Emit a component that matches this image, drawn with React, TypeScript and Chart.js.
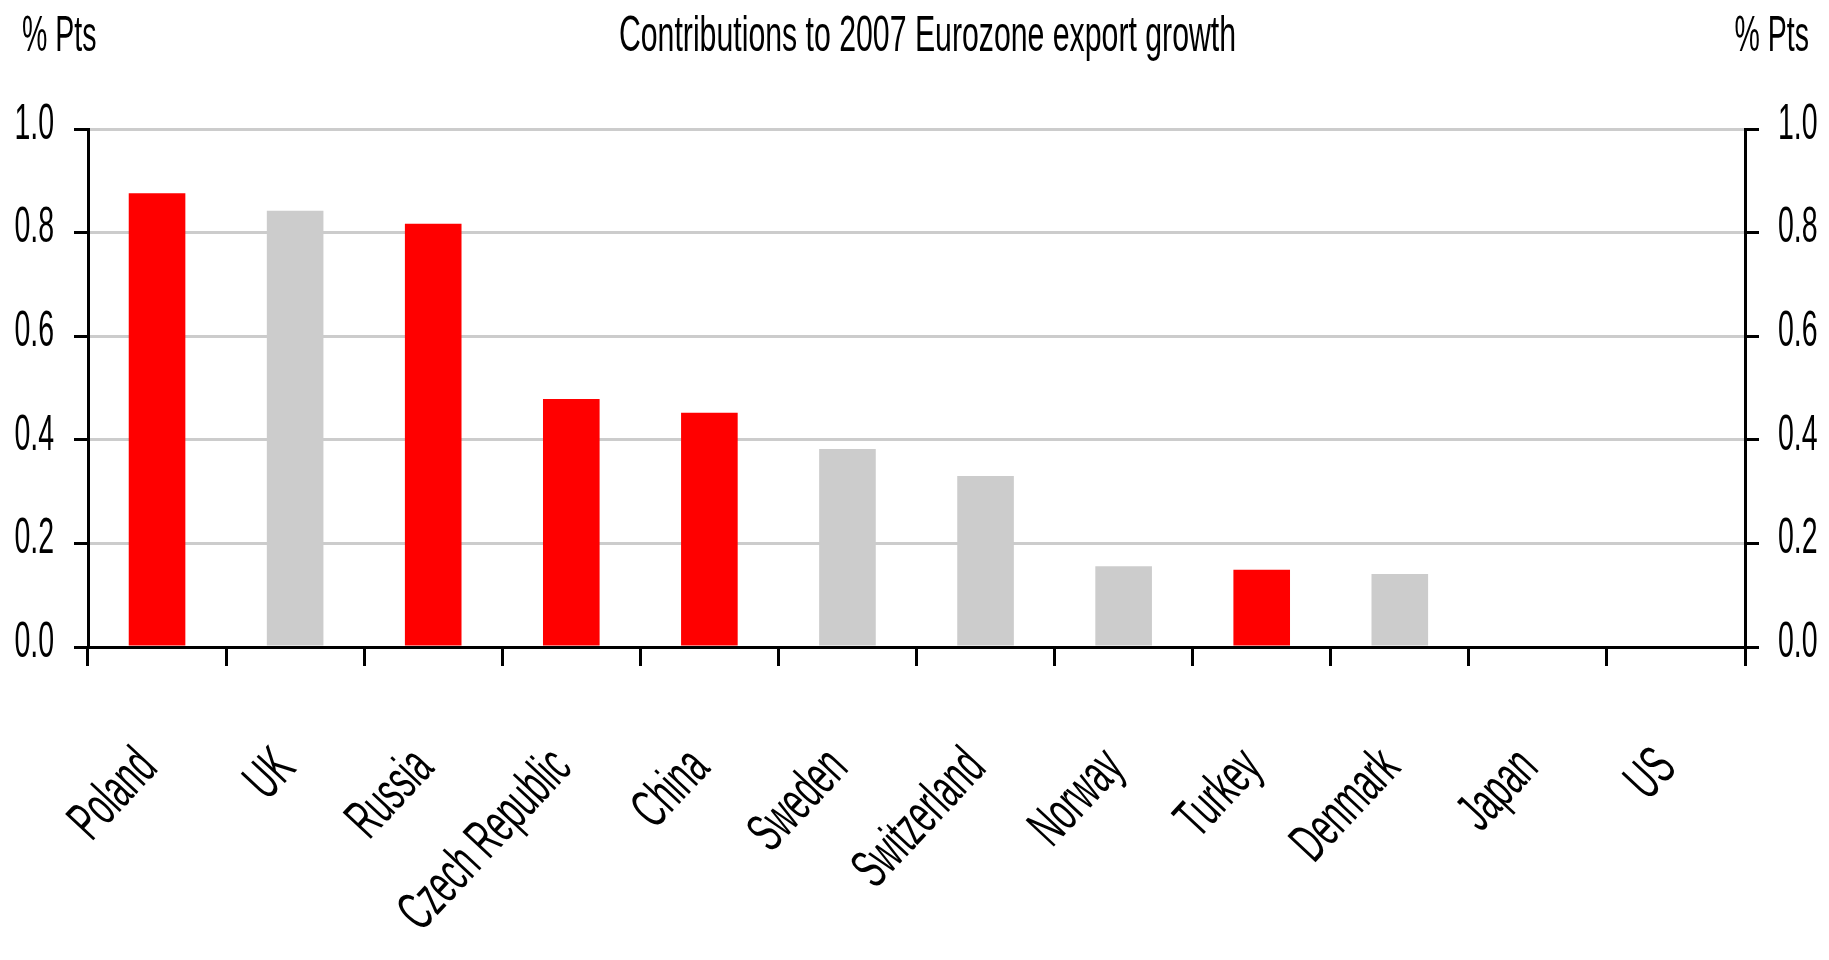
import React, { useEffect, useRef } from "react";
import { Chart, registerables } from "chart.js";

Chart.register(...registerables);

// ---- Data ----
const categories = [
  "Poland",
  "UK",
  "Russia",
  "Czech Republic",
  "China",
  "Sweden",
  "Switzerland",
  "Norway",
  "Turkey",
  "Denmark",
  "Japan",
  "US",
];
const contributions = [0.876, 0.842, 0.817, 0.479, 0.452, 0.382, 0.33, 0.156, 0.149, 0.141, 0, 0];
const highlighted = [true, false, true, true, true, false, false, false, true, false, false, false];
const yTickValues = [0, 0.2, 0.4, 0.6, 0.8, 1.0];
const chartTitle = "Contributions to 2007 Eurozone export growth";
const unitLabel = "% Pts";

// ---- Styles ----
const FONT = "'Liberation Sans', Arial, sans-serif";
const FONT_SIZE = 50;
const X_FONT_SIZE = 56;
const CONDENSE = 0.57; // horizontal squeeze of glyphs (narrow typeface look)
const TITLE_CONDENSE = 0.605;
const RED = "#FF0000";
const GREY = "#CCCCCC";

// Draw all chart text with a horizontally condensed typeface look.
const condensePlugin = {
  id: "condense",
  beforeDraw(chart: any) {
    const ctx = chart.ctx as any;
    if (ctx.__condensed) return;
    const orig = ctx.fillText.bind(ctx);
    ctx.fillText = (text: string, x: number, y: number, maxWidth?: number) => {
      const k = ctx.__k || CONDENSE;
      ctx.save();
      ctx.translate(x, y);
      ctx.scale(k, 1);
      if (maxWidth !== undefined && maxWidth !== null) orig(text, 0, 0, maxWidth / k);
      else orig(text, 0, 0);
      ctx.restore();
    };
    ctx.__condensed = true;
  },
};

const headerPlugin = {
  id: "header",
  afterDraw(chart: any) {
    const { chartArea } = chart;
    const ctx = chart.ctx as any;
    ctx.save();
    ctx.fillStyle = "#000";
    ctx.font = `${FONT_SIZE}px ${FONT}`;
    ctx.textBaseline = "alphabetic";
    ctx.textAlign = "left";
    ctx.fillText(unitLabel, chartArea.left - 66, 51);
    ctx.textAlign = "right";
    ctx.fillText(unitLabel, chartArea.right + 64, 51);
    ctx.textAlign = "center";
    ctx.__k = TITLE_CONDENSE;
    ctx.fillText(chartTitle, (chartArea.left + chartArea.right) / 2 + 11, 51);
    ctx.__k = 0;
    ctx.restore();
  },
};

export default function App() {
  const canvasRef = useRef<HTMLCanvasElement | null>(null);

  useEffect(() => {
    document.body.style.margin = "0";
    const canvas = canvasRef.current;
    if (!canvas) return;

    const yTicksOpts = (padding: number) => ({
      font: { family: FONT, size: FONT_SIZE },
      color: "#000",
      padding,
      labelOffset: -4,
      callback: (v: any) => Number(v).toFixed(1),
    });

    const chart = new Chart(canvas, {
      type: "bar",
      data: {
        labels: categories,
        datasets: [
          {
            data: contributions,
            backgroundColor: highlighted.map((h) => (h ? RED : GREY)),
            borderWidth: 0,
            barPercentage: 0.41,
            categoryPercentage: 1,
          },
        ],
      },
      options: {
        responsive: false,
        animation: false,
        devicePixelRatio: 1,
        layout: { padding: { top: 129, left: 0, right: 0, bottom: 0 } },
        plugins: {
          legend: { display: false },
          tooltip: { enabled: false },
          title: { display: false },
        },
        scales: {
          x: {
            ticks: {
              font: { family: FONT, size: X_FONT_SIZE },
              color: "#000",
              minRotation: 47,
              maxRotation: 47,
              padding: 70,
              labelOffset: -9,
              autoSkip: false,
            },
            grid: {
              drawOnChartArea: false,
              offset: true,
              color: "#000",
              lineWidth: 3,
              tickLength: 19,
            },
            border: { color: "#000", width: 3 },
            afterFit: (s: any) => {
              s.height = 313;
              s.paddingLeft = 0;
              s.paddingRight = 0;
            },
          },
          y: {
            position: "left",
            min: 0,
            max: 1,
            afterBuildTicks: (s: any) => {
              s.ticks = yTickValues.map((v) => ({ value: v }));
            },
            ticks: yTicksOpts(20),
            grid: {
              color: (c: any) => (c.tick && c.tick.value === 0 ? "#000" : GREY),
              lineWidth: 3,
              tickColor: "#000",
              tickLength: 14,
            },
            border: { color: "#000", width: 3 },
            afterFit: (s: any) => {
              s.width = 88;
            },
          },
          y2: {
            position: "right",
            min: 0,
            max: 1,
            afterBuildTicks: (s: any) => {
              s.ticks = yTickValues.map((v) => ({ value: v }));
            },
            ticks: yTicksOpts(19),
            grid: {
              drawOnChartArea: false,
              color: "#000",
              lineWidth: 3,
              tickColor: "#000",
              tickLength: 14,
            },
            border: { color: "#000", width: 3 },
            afterFit: (s: any) => {
              s.width = 84;
            },
          },
        },
      },
      plugins: [condensePlugin, headerPlugin],
    });

    return () => chart.destroy();
  }, []);

  return (
    <canvas
      ref={canvasRef}
      width={1829}
      height={960}
      style={{ display: "block", width: "1829px", height: "960px" }}
    />
  );
}
